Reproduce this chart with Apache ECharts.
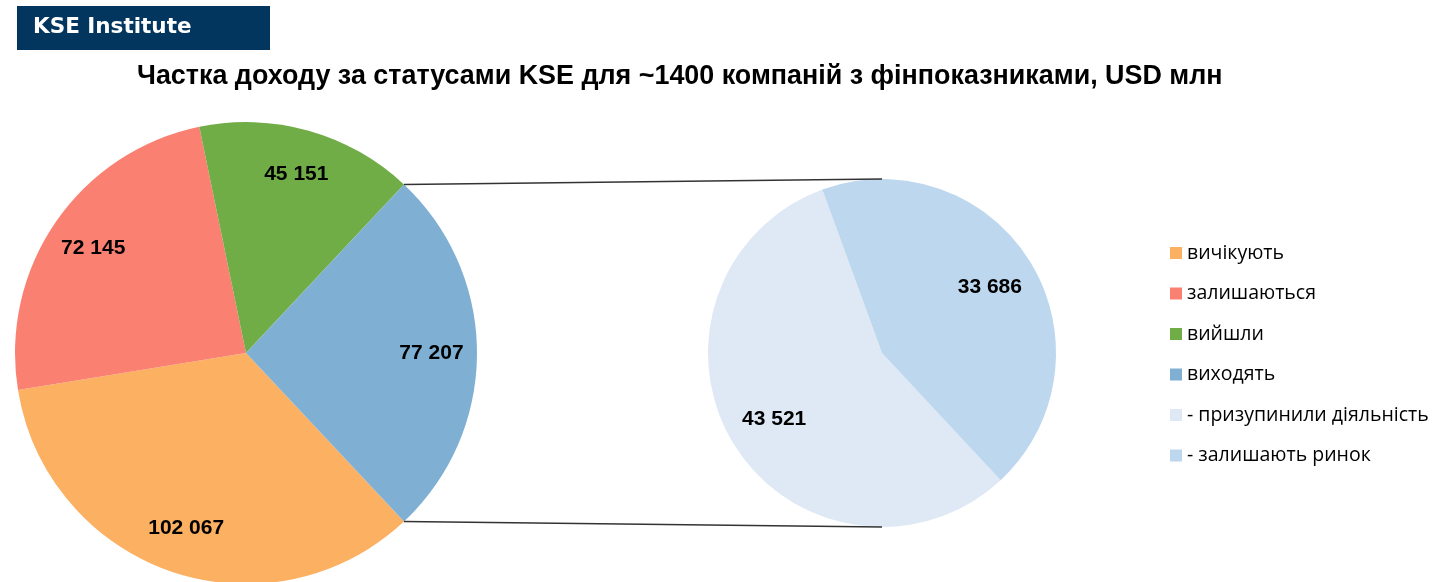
<!DOCTYPE html>
<html>
<head>
<meta charset="utf-8">
<script src="https://cdn.jsdelivr.net/npm/echarts@6/dist/echarts.min.js"></script>
<style>
  html, body { margin: 0; padding: 0; background: #fff; }
  #chart { width: 1432px; height: 582px; }
</style>
</head>
<body>
<div id="chart"></div>
<script>
// data
var mainNames = ['вичікують', 'залишаються', 'вийшли', 'виходять'];
var mainValues = [102067, 72145, 45151, 77207];
var subNames = ['- призупинили діяльність', '- залишають ринок'];
var subValues = [43521, 33686];

var mainColors = ['#FBB062', '#FA8072', '#70AD47', '#7FB0D3'];
var subColors = ['#DEE9F5', '#BDD7EE'];

// layout of the two pies
var mainC = [246, 353], mainR = 231;
var subC = [882, 353], subR = 174;

function fmt(v) {
  return String(v).replace(/\B(?=(\d{3})+(?!\d))/g, ' ');
}

function buildData(names, values, colors) {
  return names.map(function (n, i) {
    return { name: n, value: values[i], itemStyle: { color: colors[i] } };
  });
}

var total = mainValues.reduce(function (a, b) { return a + b; }, 0);
// the exploded slice (виходять) is centred on the right-hand side
var blueDeg = mainValues[3] / total * 360;
var startMain = -blueDeg / 2;

// connector lines from blue slice edges to top/bottom of the second pie
var a = blueDeg / 2 * Math.PI / 180;
var p1 = [mainC[0] + mainR * Math.cos(a), mainC[1] - mainR * Math.sin(a)];
var p2 = [mainC[0] + mainR * Math.cos(a), mainC[1] + mainR * Math.sin(a)];
var q1 = [subC[0], subC[1] - subR];
var q2 = [subC[0], subC[1] + subR];

var labelStyle = {
  show: true, position: 'inside', color: '#000',
  fontFamily: 'Liberation Sans', fontWeight: 'bold', fontSize: 21,
  formatter: function (p) { return fmt(p.value); }
};

const chart = echarts.init(document.getElementById('chart'));
chart.setOption({
  animation: false,
  title: {
    text: 'Частка доходу за статусами KSE для ~1400 компаній з фінпоказниками, USD млн',
    left: 132, top: 58,
    textStyle: { fontFamily: 'Liberation Sans', fontWeight: 'bold', fontSize: 26.9, color: '#000' }
  },
  legend: {
    orient: 'vertical', left: 1165, top: 238,
    icon: 'rect', itemWidth: 12, itemHeight: 12, itemGap: 20.5,
    data: mainNames.concat(subNames),
    textStyle: { fontFamily: 'Open Sans', fontSize: 19.5, color: '#000', lineHeight: 20 }
  },
  graphic: [
    { type: 'rect', shape: { x: 17, y: 6, width: 253, height: 44 }, style: { fill: '#03365F' } },
    { type: 'text', x: 33, y: 27, style: { text: 'KSE Institute', fill: '#fff', font: 'bold 21.5px "DejaVu Sans"', verticalAlign: 'middle' } },
    { type: 'line', shape: { x1: p1[0], y1: p1[1], x2: q1[0], y2: q1[1] }, style: { stroke: '#333', lineWidth: 1.5 }, z: 10 },
    { type: 'line', shape: { x1: p2[0], y1: p2[1], x2: q2[0], y2: q2[1] }, style: { stroke: '#333', lineWidth: 1.5 }, z: 10 }
  ],
  series: [
    {
      type: 'pie', center: mainC, radius: [0, mainR], startAngle: startMain,
      clockwise: true, silent: true,
      itemStyle: { borderWidth: 0 },
      label: { show: false }, labelLine: { show: false },
      data: buildData(mainNames, mainValues, mainColors)
    },
    {
      type: 'pie', center: subC, radius: [0, subR], startAngle: 313,
      clockwise: true, silent: true,
      itemStyle: { borderWidth: 0 },
      label: { show: false }, labelLine: { show: false },
      data: buildData(subNames, subValues, subColors)
    },
    // transparent rings used only to place the value labels
    {
      type: 'pie', center: mainC, radius: [mainR * 0.58, mainR], startAngle: startMain,
      clockwise: true, silent: true, z: 5,
      itemStyle: { color: 'rgba(0,0,0,0)', borderWidth: 0 },
      label: labelStyle, labelLine: { show: false },
      data: mainNames.map(function (n, i) { return { name: n, value: mainValues[i] }; })
    },
    {
      type: 'pie', center: subC, radius: [subR * 0.42, subR], startAngle: 313,
      clockwise: true, silent: true, z: 5,
      itemStyle: { color: 'rgba(0,0,0,0)', borderWidth: 0 },
      label: labelStyle, labelLine: { show: false },
      data: subNames.map(function (n, i) { return { name: n, value: subValues[i] }; })
    }
  ]
});
</script>
</body>
</html>
